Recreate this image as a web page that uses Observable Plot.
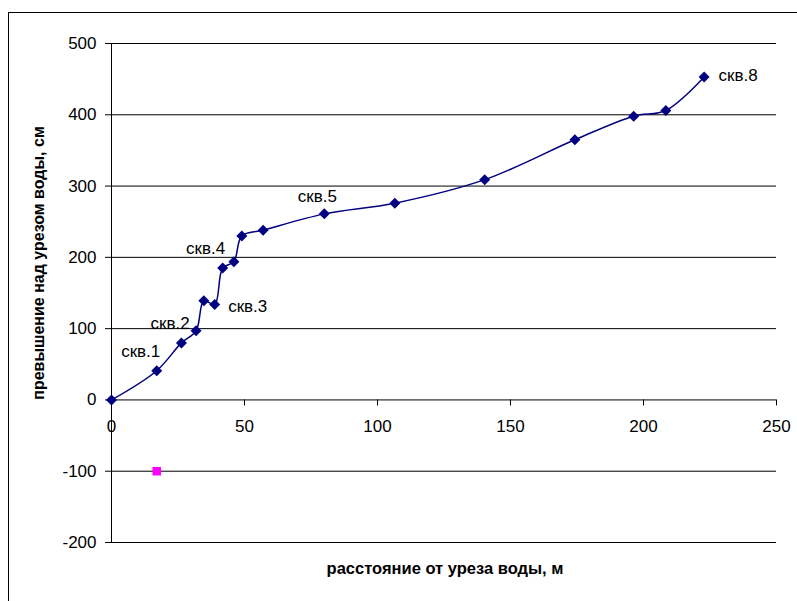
<!DOCTYPE html>
<html><head><meta charset="utf-8">
<script src="https://cdn.jsdelivr.net/npm/d3@7"></script>
<script src="https://cdn.jsdelivr.net/npm/@observablehq/plot@0.6"></script>
<style>
html,body{margin:0;padding:0;background:#fff;overflow:hidden;}
#wrap{position:relative;width:797px;height:601px;}
#wrap svg{position:absolute;left:0;top:0;}
#frame{position:absolute;left:8px;top:12px;width:900px;height:700px;border:1px solid #000;pointer-events:none;z-index:2;}
</style></head><body><div id="wrap"><div id="frame"></div></div>
<script>
// data
const distance  = [0, 17, 26.3, 31.8, 34.7, 38.8, 41.8, 46.0, 49.0, 57.0, 80, 106.5, 140.3, 174.2, 196.3, 208.4, 222.8];
const elevation = [0, 41, 80, 97, 139, 134, 185, 194, 230, 238, 261, 276, 309, 365, 398, 406, 453];
const wellNames = ["скв.1", "скв.2", "скв.3", "скв.4", "скв.5", "скв.8"];
const wellPointIndex = [1, 3, 5, 6, 10, 16];
const waterDistance = [17];
const waterLevel = [-100];
const xTicks = [0, 50, 100, 150, 200, 250];
const yTicks = [-200, -100, 0, 100, 200, 300, 400, 500];
const xTitle = "расстояние от уреза воды, м";
const yTitle = "превышение над урезом воды, см";

// styles
const labelOffsets = [[-16, -19], [-26, -7], [33, 2], [-17, -20], [-7, -17], [34, -1]];
const W = 797, H = 601, mt = 43, mb = 59, ml = 111, mr = 21;
const yDomain = [-200, 500];
const y0px = mt + (yDomain[1] - 0) / (yDomain[1] - yDomain[0]) * (H - mt - mb);
const axisShift = y0px - (H - mb);

const profile = distance.map((d, i) => ({d, h: elevation[i]}));
const water = waterDistance.map((d, i) => ({d, h: waterLevel[i]}));
const wells = wellNames.map((name, i) => ({name, d: distance[wellPointIndex[i]], h: elevation[wellPointIndex[i]], off: labelOffsets[i]}));

const diamond = {draw(ctx, size) {
  const h = Math.sqrt(size / Math.PI) * 1.1;
  ctx.moveTo(0, -h); ctx.lineTo(h, 0); ctx.lineTo(0, h); ctx.lineTo(-h, 0); ctx.closePath();
}};

const navy = "#000080";
const plot = Plot.plot({
  width: W, height: H,
  marginTop: mt, marginBottom: mb, marginLeft: ml, marginRight: mr,
  style: {fontFamily: "Arial, 'Liberation Sans', sans-serif", fontSize: "17px", color: "#000", background: "transparent", overflow: "visible"},
  x: {domain: [0, 250]},
  y: {domain: yDomain},
  marks: [
    Plot.gridY(yTicks, {stroke: "#000", strokeOpacity: 1, strokeWidth: 1}),
    Plot.ruleX([0], {stroke: "#000", strokeWidth: 1}),
    Plot.axisY(yTicks, {anchor: "left", tickSize: 6, tickPadding: 9, tickFormat: d => String(d), label: null, stroke: "#000"}),
    Plot.axisX(xTicks, {anchor: "bottom", dy: axisShift, tickSize: 6, tickPadding: 14, tickFormat: d => String(d), label: null, stroke: "#000"}),
    Plot.line(profile, {x: "d", y: "h", curve: "catmull-rom", stroke: navy, strokeWidth: 1.5}),
    Plot.dot(profile, {x: "d", y: "h", symbol: diamond, r: 5, fill: navy, stroke: null}),
    Plot.dot(water, {x: "d", y: "h", symbol: "square", r: 4.8, fill: "#ff00ff", stroke: null}),
    ...wells.map(w => Plot.text([w], {x: "d", y: "h", text: "name", dx: w.off[0], dy: w.off[1], fontSize: 17, fill: "#000"})),
    Plot.text([xTitle], {frameAnchor: "bottom", textAnchor: "middle", dy: 31, dx: 1, fontWeight: "bold", fontSize: 16.5, fill: "#000"}),
    Plot.text([yTitle], {frameAnchor: "left", textAnchor: "middle", dx: -73, dy: -30, rotate: -90, fontWeight: "bold", fontSize: 16, fill: "#000"})
  ]
});
document.getElementById("wrap").appendChild(plot);
</script>
</body></html>
